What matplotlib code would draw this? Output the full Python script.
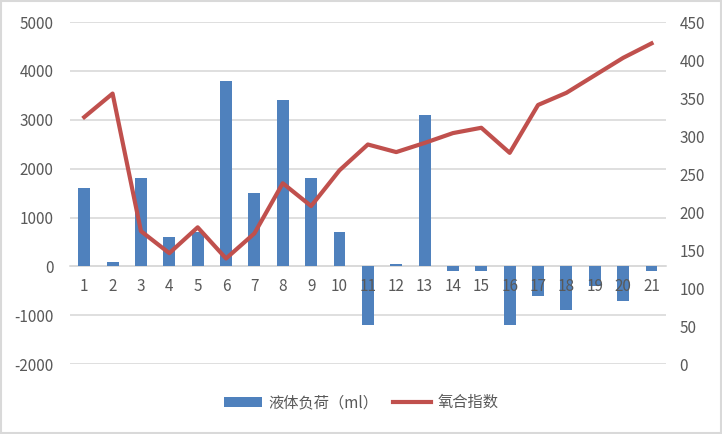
import matplotlib.pyplot as plt
import numpy as np

plt.rcParams['font.family'] = ['Noto Sans CJK SC', 'DejaVu Sans']
plt.rcParams['axes.unicode_minus'] = False

days = [str(i) for i in range(1, 22)]
fluid_load = [1600, 100, 1800, 600, 700, 3800, 1500, 3400, 1800, 700, -1200,
              50, 3100, -100, -100, -1200, -600, -900, -400, -700, -100]
oxy_index = [325, 356, 175, 146, 180, 139, 172, 238, 208, 255, 289,
             279, 291, 304, 311, 278, 341, 357, 380, 403, 422]

bar_color = "#4F81BD"
line_color = "#C0504D"
text_color = "#595959"
grid_color = "#D9D9D9"

fig = plt.figure(figsize=(7.22, 4.34), dpi=100)
ax = fig.add_axes([0.097, 0.161, 0.825, 0.788])
x = np.arange(len(days))

ax.bar(x, fluid_load, width=0.42, color=bar_color, label="液体负荷（ml）", zorder=1.2)
ax.set_ylim(-2000, 5000)
yticks = list(range(-2000, 5001, 1000))
ax.set_yticks(yticks)
ax.set_xlim(-0.5, len(days) - 0.5)
ax.set_xticks(x)
ax.set_xticklabels(days)
# gridlines drawn beneath the bars, tick labels stay on top (axis zorder 1.5)
ax.hlines(yticks, -0.5, len(days) - 0.5, color=grid_color, linewidth=1.2, zorder=1)
for side in ["top", "right", "left"]:
    ax.spines[side].set_visible(False)
ax.spines["bottom"].set_position(("data", 0))
ax.spines["bottom"].set_color(grid_color)
ax.spines["bottom"].set_linewidth(1.2)
ax.spines["bottom"].set_zorder(1)
ax.tick_params(axis="both", length=0, colors=text_color, labelsize=11)
ax.tick_params(axis="x", pad=8)
ax.tick_params(axis="y", pad=12)

ax2 = ax.twinx()
ax2.plot(x, oxy_index, color=line_color, linewidth=3, label="氧合指数", zorder=3)
ax2.set_ylim(0, 450)
ax2.set_yticks(range(0, 451, 50))
for side in ["top", "right", "left", "bottom"]:
    ax2.spines[side].set_visible(False)
ax2.tick_params(axis="y", length=0, colors=text_color, labelsize=11, pad=10)

h1, l1 = ax.get_legend_handles_labels()
h2, l2 = ax2.get_legend_handles_labels()
fig.legend(h1 + h2, l1 + l2, loc="center", bbox_to_anchor=(0.5, 0.072), ncol=2,
           frameon=False, fontsize=11, labelcolor=text_color,
           handlelength=2.5, columnspacing=1.0, handletextpad=0.4)

fig.patches.append(plt.Rectangle((0.002, 0.003), 0.996, 0.994, transform=fig.transFigure,
                                 fill=False, edgecolor="#D9D9D9", linewidth=1.5))

fig.savefig("out.png", dpi=100)
